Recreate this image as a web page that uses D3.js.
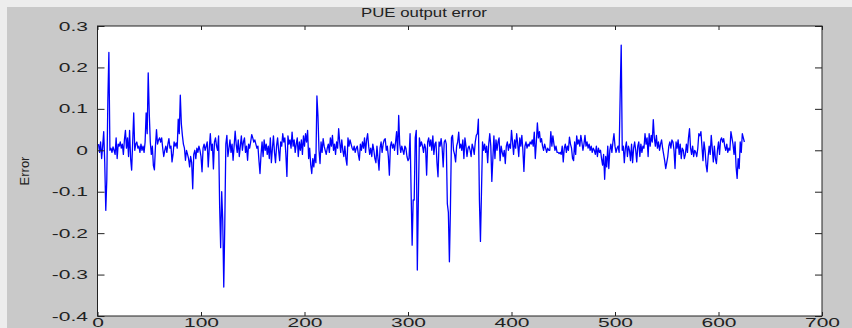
<!DOCTYPE html>
<html>
<head>
<meta charset="utf-8">
<script src="https://cdn.jsdelivr.net/npm/d3@7"></script>
<style>
  html, body { margin: 0; padding: 0; background: #ededed; }
  svg { display: block; }
  text { font-family: "Liberation Sans", Arial, sans-serif; }
</style>
</head>
<body>
<div id="chart"></div>
<script>
// PUE output error, one value per sample, in thousandths
const errorValues = [
  15, -5, 20, -20, 10, 45, -30, -145, -70, 120,
  236, 0, 5, -5, 8, 0, -10, 30, -20, 15,
  10, 20, 5, 15, -10, 25, 48, 5, 30, -15,
  48, -20, -48, 20, 90, 0, 15, 20, 5, 10,
  -5, 15, 0, 10, -5, 20, 90, 40, 187, 90,
  20, -10, 10, -37, -47, 10, 50, 15, 25, 30,
  20, 30, 5, -15, 0, 10, -5, 15, 28, 5,
  10, -28, -10, 20, 10, 18, 5, 75, 40, 133,
  64, 36, 15, 5, -24, 0, -10, -20, -40, -15,
  -30, -93, -10, 0, -20, 5, -5, 10, 0, -15,
  -52, 5, 15, 0, 10, 20, -40, 5, 40, 0,
  15, -45, 20, 30, 10, 0, 35, -133, -235, -100,
  -170, -330, -176, 15, 36, -15, 5, 25, -5, 15,
  -24, 10, 46, 15, -5, 25, -15, 10, 35, 0,
  20, 30, -5, 10, -24, 15, 5, 20, 38, 30,
  20, 25, 15, 5, 10, -25, -56, -10, 20, -15,
  25, 0, 15, -10, 10, -20, 30, -30, 5, 35,
  -5, -30, 10, 30, 0, -25, 20, 10, 40, 20,
  30, -10, -63, 35, 15, 25, 5, 44, 10, 25,
  -5, 15, 30, -15, 20, 0, 25, -10, 35, 10,
  40, 20, 48, -20, 5, -35, -56, -20, -40, -10,
  -30, 131, 83, 0, -32, 20, -5, 28, 10, 0,
  -10, 5, 15, -5, 30, 10, 36, 0, 15, -10,
  20, 5, 52, 20, -5, 25, 0, -15, 10, -20,
  -36, 30, 10, 25, 15, 5, 0, 10, -5, 5,
  10, -10, -24, 15, 0, 20, 5, 30, -5, 25,
  40, 10, -10, 5, -15, 15, 0, -20, -30, 10,
  -20, -48, 5, 20, -5, 15, 25, 28, 0, 10,
  -15, -60, 10, 20, 5, 15, 0, 20, 45, -10,
  84, 15, -5, 10, 0, -10, 10, 5, -15, -25,
  -20, 40, -100, -229, -120, -120, 30, 48, -289, -120,
  30, 10, 20, 10, -5, 15, 5, -60, 20, 30,
  10, 25, 0, 35, -10, 15, 20, -30, -64, 20,
  10, 28, 5, -40, 20, 25, 15, -129, -150, -269,
  -140, 30, 36, 0, -10, -28, 10, 20, 44, 5,
  15, 0, 25, -20, 30, 10, -15, 5, 10, 0,
  -15, 15, 5, -10, 20, 36, 40, 75, -120, -220,
  -100, 20, 0, 15, -5, 10, -30, 15, 40, 10,
  -75, -20, 35, -20, 25, 0, 20, 30, -25, 10,
  -5, -15, 0, -32, 10, 20, 0, 15, 5, 48,
  20, -10, 25, 5, 40, 15, -15, 30, 10, 36,
  0, -51, 10, 20, 5, 15, 10, 20, 15, 25,
  10, 44, -20, 20, 66, 30, 45, 20, 28, 10,
  0, 15, 5, -5, 5, 0, 0, 45, 10, 35,
  15, 0, 10, -5, -5, -8, -5, -10, 10, -28,
  5, 15, -5, 10, 0, 32, 15, 5, -20, -25,
  20, -10, 35, 15, 25, 10, 36, 20, 0, 15,
  36, 10, 20, 5, 15, 0, 10, -5, 5, 0,
  -10, 10, -15, 5, -5, 0, -20, -36, -10, -70,
  -15, -40, 10, -44, 0, 15, -5, 20, 40, 10,
  -5, 5, 10, -5, 134, 254, 0, 10, -30, 5,
  20, -15, 10, 0, -25, 15, -30, 5, 20, 0,
  -28, 10, 20, -15, 15, -5, 10, 5, 40, 15,
  30, -15, 40, 10, 36, 20, 74, 30, 10, 36,
  5, 20, 0, 15, 25, 5, -10, -25, -44, -30,
  -15, 10, 20, 5, 25, 20, 0, -44, 20, 5,
  25, -10, 15, -20, 5, 0, -20, -10, 15, -5,
  30, 52, 5, -10, 10, -15, 0, -5, -15, 5,
  40, 35, 45, 10, -25, 20, 0, -35, -52, -15,
  10, -10, 36, 5, -28, 10, -20, -32, 0, 20,
  -10, 25, 30, 20, 28, 10, 0, 15, -5, 5,
  0, 45, 30, 15, -10, 20, -40, -68, -20, -44,
  20, -5, 40, 30, 20
];

const xTicks = [0, 100, 200, 300, 400, 500, 600, 700];
const yTicks = [-0.4, -0.3, -0.2, -0.1, 0, 0.1, 0.2, 0.3];
const titleText = "PUE output error";
const yLabelText = "Error";

// Specify the dimensions of the chart.
const width = 852;
const height = 328;
const plot = { left: 97.5, right: 822, top: 26, bottom: 316 };
const stretch = 1.75; // the labels in the picture are drawn wide

const svg = d3.select('#chart')
  .append('svg')
  .attr('width', width)
  .attr('height', height);

// figure background
svg.append('rect')
  .attr('x', 7)
  .attr('y', 7)
  .attr('width', width - 7)
  .attr('height', height - 7)
  .attr('fill', '#c9c9c9');

svg.append('rect')
  .attr('x', plot.left)
  .attr('y', plot.top)
  .attr('width', plot.right - plot.left)
  .attr('height', plot.bottom - plot.top)
  .attr('fill', '#ffffff');

const x = d3.scaleLinear().domain([0, 700]).range([plot.left, plot.right]);
const y = d3.scaleLinear().domain([-0.4, 0.3]).range([plot.bottom, plot.top]);

const points = errorValues.map((v, i) => ({ i: i + 1, v: v / 1000 }));

const line = d3.line()
  .x(d => x(d.i))
  .y(d => y(d.v));

svg.append('path')
  .datum(points)
  .attr('fill', 'none')
  .attr('stroke', '#0000ff')
  .attr('stroke-width', 1.3)
  .attr('stroke-linejoin', 'round')
  .attr('d', line);

// axes, MATLAB style: ticks inside, on all four sides
const fmt = d => (d === 0 ? '0' : String(d));

const gBottom = svg.append('g')
  .attr('transform', `translate(0,${plot.bottom})`)
  .call(d3.axisBottom(x).tickValues(xTicks).tickFormat(fmt).tickSizeInner(-4).tickSizeOuter(0));

// labels sit at the very bottom edge, as in the picture
gBottom.selectAll('text')
  .attr('y', 0)
  .attr('dy', null)
  .attr('transform', `translate(0,11) scale(${stretch},1)`);

const gLeft = svg.append('g')
  .attr('transform', `translate(${plot.left},0)`)
  .call(d3.axisLeft(y).tickValues(yTicks).tickFormat(fmt).tickSizeInner(-7).tickSizeOuter(0));

gLeft.selectAll('text')
  .attr('x', 0)
  .attr('dy', '0.34em')
  .attr('transform', `translate(-9.5,0) scale(${stretch},1)`);

svg.append('g')
  .attr('transform', `translate(0,${plot.top})`)
  .call(d3.axisTop(x).tickValues(xTicks).tickFormat('').tickSizeInner(-4).tickSizeOuter(0));

svg.append('g')
  .attr('transform', `translate(${plot.right},0)`)
  .call(d3.axisRight(y).tickValues(yTicks).tickFormat('').tickSizeInner(-7).tickSizeOuter(0));

svg.selectAll('.domain').remove();
svg.selectAll('.tick line').attr('stroke', '#222');
svg.selectAll('.tick text')
  .attr('fill', '#222')
  .style('font-size', '12px');

// box round the plot
svg.append('rect')
  .attr('x', plot.left)
  .attr('y', plot.top)
  .attr('width', plot.right - plot.left)
  .attr('height', plot.bottom - plot.top)
  .attr('fill', 'none')
  .attr('stroke', '#222')
  .attr('stroke-width', 1);

svg.append('text')
  .attr('text-anchor', 'middle')
  .attr('transform', `translate(424,17) scale(1.4,1)`)
  .attr('fill', '#222')
  .style('font-size', '12px')
  .text(titleText);

svg.append('text')
  .attr('text-anchor', 'middle')
  .attr('transform', `translate(29,171) rotate(-90)`)
  .attr('fill', '#222')
  .style('font-size', '13px')
  .text(yLabelText);
</script>
</body>
</html>
